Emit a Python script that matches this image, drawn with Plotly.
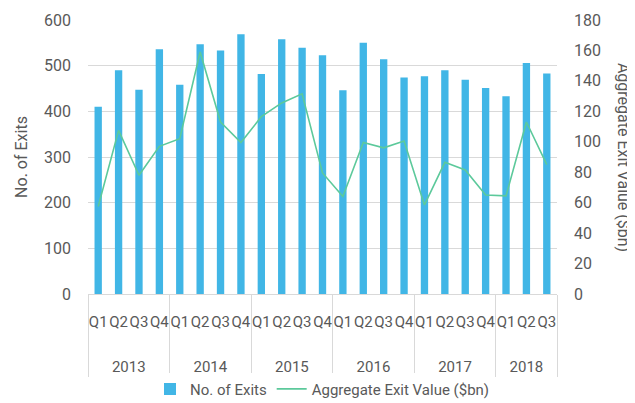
import plotly.graph_objects as go

years = ["2013"] * 4 + ["2014"] * 4 + ["2015"] * 4 + ["2016"] * 4 + ["2017"] * 4 + ["2018"] * 3
quarters = ["Q1", "Q2", "Q3", "Q4"] * 5 + ["Q1", "Q2", "Q3"]

exits = [410, 490, 447, 536, 458, 547, 533, 569, 482, 558, 539, 523,
         446, 550, 514, 474, 477, 490, 469, 451, 433, 506, 483]
exit_value = [57.5, 107.5, 78, 97, 102, 159, 113, 99.5, 116.5, 125.5, 131.5, 79.5,
              64, 99.5, 96, 100.5, 58.5, 86.5, 81.5, 65, 64.5, 113, 85]

# years get blank lines on top so they sit lower, as in the original
year_labels = ["<br><br>" + y for y in years]

FONT = "Roboto, Lato, sans-serif"
GREY = "#595959"

fig = go.Figure()
fig.add_trace(go.Bar(
    x=[year_labels, quarters], y=exits, name="No. of Exits",
    marker=dict(color="#41b6e6", line=dict(width=0)),
))
fig.add_trace(go.Scatter(
    x=[year_labels, quarters], y=exit_value, name="Aggregate Exit Value ($bn)",
    mode="lines", line=dict(color="#5cc99b", width=1.6), yaxis="y2",
))

# page body has an 8px margin, so the figure is 8px smaller than the window
fig.update_layout(
    width=627, height=395,
    margin=dict(l=80, r=78, t=12, b=109),
    paper_bgcolor="white", plot_bgcolor="white",
    font=dict(family=FONT, size=15, color=GREY),
    bargap=0.64,
    showlegend=True,
    legend=dict(orientation="h", x=0.5, xanchor="center",
                yref="container", y=0.035, yanchor="middle",
                font=dict(size=15, color=GREY), itemwidth=30, tracegroupgap=0),
    xaxis=dict(type="multicategory", showgrid=False, showline=True, linecolor="#d9d9d9",
               showdividers=True, dividercolor="#d9d9d9", dividerwidth=1,
               tickfont=dict(size=15, color=GREY), ticks="", tickangle=0,
               ticklabelstandoff=14, automargin=False),
    yaxis=dict(range=[0, 600], dtick=100, showgrid=True, gridcolor="#d9d9d9",
               zeroline=False, showline=False, ticks="", automargin=False,
               ticklabelstandoff=16,
               title=dict(text="No. of Exits", standoff=12, font=dict(size=16, color=GREY)),
               tickfont=dict(size=16, color=GREY)),
    yaxis2=dict(range=[0, 180], dtick=20, overlaying="y", side="right", showgrid=False,
                zeroline=False, showline=False, ticks="", automargin=False,
                ticklabelstandoff=16,
                tickfont=dict(size=16, color=GREY)),
    annotations=[dict(text="Aggregate Exit Value ($bn)", textangle=90,
                      xref="paper", yref="paper", x=1.143, y=0.5,
                      xanchor="center", yanchor="middle", showarrow=False,
                      font=dict(size=16, color=GREY))],
)

fig.write_html("out.html")
